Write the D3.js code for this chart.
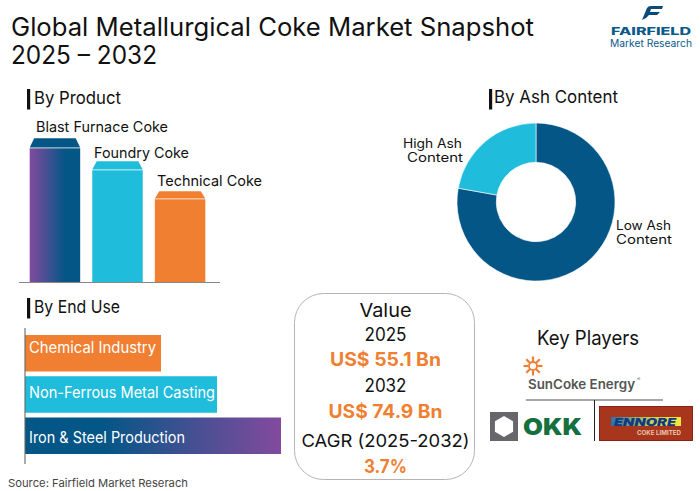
<!DOCTYPE html>
<html><head><meta charset="utf-8">
<script src="https://cdn.jsdelivr.net/npm/d3@7"></script>
<style>html,body{margin:0;background:#fff}svg{display:block}text{font-family:Inter,"Open Sans",sans-serif}</style>
</head><body><svg id="c" width="700" height="491"></svg>
<script>
const titleLines=["Global Metallurgical Coke Market Snapshot","2025 – 2032"];
const products=["Blast Furnace Coke","Foundry Coke","Technical Coke"];
const productValues=[134,112,83];
const ashLabels=["Low Ash Content","High Ash Content"];
const ashValues=[77.8,22.2];
const endUses=["Chemical Industry","Non-Ferrous Metal Casting","Iron & Steel Production"];
const endUseValues=[136,192,256];
const navy="#035686",cyan="#1fbcdb",orange="#f07f32",purple="#834a9e",ink="#111";
const valueLines=["Value","2025","US$ 55.1 Bn","2032","US$ 74.9 Bn","CAGR (2025-2032)","3.7%"];
const svg=d3.select("#c");
const defs=svg.append("defs");
function grad(id,stops){const g=defs.append("linearGradient").attr("id",id);stops.forEach(([o,c])=>g.append("stop").attr("offset",o).attr("stop-color",c));}
grad("g1",[[0,purple],[0.7,navy],[1,navy]]);
grad("g2",[[0,navy],[0.3,navy],[1,purple]]);
grad("g3",[[0,"#2f6fb0"],[0.5,"#b7c860"],[1,"#f6e63f"]]);
const txt=(x,y,s,size,o={})=>svg.append("text").attr("x",x).attr("y",y).text(s).attr("font-size",size).attr("text-anchor",o.a||"start").style("fill",o.f||ink).style("font-weight",o.w||400).style("font-style",o.i||null).attr("textLength",o.l||null).attr("lengthAdjust","spacingAndGlyphs");
txt(11,36,titleLines[0],25,{l:523});txt(11,64,titleLines[1],25,{l:146});
// headings
[[27,"By Product",89,104,87,34],[27,"By End Use",298,313,86,34],[489,"By Ash Content",89,103,124,494]].forEach(([x,s,y,b,l,tx])=>{
 svg.append("rect").attr("x",x).attr("y",y).attr("width",3.2).attr("height",20.5).attr("fill",ink);
 txt(tx,b,s,17.5,{l});});
// product bars
const yP=d3.scaleLinear().domain([0,134]).range([282.3,148.3]);
const xP=d3.scaleBand().domain(products).range([29.7,205.3]).paddingInner(0.193).paddingOuter(0);
const fills=["url(#g1)",cyan,orange],caps=[navy,cyan,orange];
const labelX=[36,94,157],labelW=[132,95,105],labelY=[132,158,186],capH=[10,9,8];
products.forEach((p,i)=>{
 const x=xP(p),w=xP.bandwidth(),y=yP(productValues[i]),h=yP(0)-y;
 svg.append("rect").attr("x",x).attr("y",y).attr("width",w).attr("height",h).attr("fill",fills[i]);
 svg.append("path").attr("d",d3.line()([[x,y-0.8],[x+4.5,y-capH[i]],[x+w-4.5,y-capH[i]],[x+w,y-0.8]])+"Z").attr("fill",caps[i]);
 txt(labelX[i],labelY[i],p,14.5,{l:labelW[i]});
});
svg.append("line").attr("x1",19).attr("x2",220).attr("y1",282.5).attr("y2",282.5).attr("stroke","#888").attr("stroke-width",1.1);
// donut
const ag=svg.append("g").attr("transform","translate(536,202)");
const pie=d3.pie().sort(null)(ashValues);
const arc=d3.arc().innerRadius(39.7).outerRadius(79);
ag.selectAll("path").data(pie).join("path").attr("d",arc).attr("fill",(d,i)=>[navy,cyan][i]).attr("stroke","#fff").attr("stroke-width",0.6);
txt(403,148,"High Ash",12.5,{l:59});txt(407,162,"Content",12.5,{l:56});
txt(616,230,"Low Ash",12.5,{l:55});txt(616,244,"Content",12.5,{l:56});
// end use
const xE=d3.scaleLinear().domain([0,256]).range([25,281]);
const yE=d3.scaleBand().domain(endUses).range([335,454]).paddingInner(0.115);
const ef=[orange,cyan,"url(#g2)"],elab=[127,186,156],eY=[353,398,443];
endUses.forEach((e,i)=>{
 svg.append("rect").attr("x",xE(0)).attr("y",yE(e)).attr("width",xE(endUseValues[i])-xE(0)).attr("height",yE.bandwidth()).attr("fill",ef[i]);
 txt(29,eY[i],e,15.5,{f:"#fff",l:elab[i]});
});
svg.append("line").attr("x1",25).attr("x2",25).attr("y1",328).attr("y2",464).attr("stroke","#666").attr("stroke-width",1.1);
txt(8,487,"Source: Fairfield Market Reserach",11,{f:"#444",l:180});
// value box
svg.append("rect").attr("x",294.5).attr("y",293.5).attr("width",180).attr("height",186).attr("rx",29).attr("fill","none").attr("stroke","#b5b5b5");
const ys=[317,341,366,392,418,447,473],ls=[52,42,111,42,114,168,43],hot=[0,0,1,0,1,0,1];
valueLines.forEach((s,i)=>txt(385.5,ys[i],s,hot[i]?18.5:(i==5?17.5:18.5),{a:"middle",f:hot[i]?orange:ink,w:hot[i]?700:400,l:ls[i]}));
// key players
txt(588,345,"Key Players",19.5,{a:"middle",l:102});
const sun=svg.append("g").attr("transform","translate(533,366)");
d3.range(8).forEach(i=>sun.append("rect").attr("x",-1.1).attr("y",-9.5).attr("width",2.2).attr("height",5).attr("fill",orange).attr("transform",`rotate(${i*45})`));
sun.append("circle").attr("r",4).attr("fill","none").attr("stroke",orange).attr("stroke-width",1.8);
txt(528,389,"SunCoke Energy",13,{f:"#555",w:600,l:107});
txt(637,381,"®",5,{f:"#777"});
svg.append("line").attr("x1",526).attr("x2",663).attr("y1",400).attr("y2",400).attr("stroke","#888").attr("stroke-width",1.5);
svg.append("line").attr("x1",594.5).attr("x2",594.5).attr("y1",400).attr("y2",441).attr("stroke","#222");
svg.append("rect").attr("x",490).attr("y",412).attr("width",28).attr("height",29).attr("fill","#66666b");
svg.append("path").attr("d",d3.line()(d3.range(6).map(i=>{const a=i*Math.PI/3;return [504+10.5*Math.sin(a),426.5-10.5*Math.cos(a)];}))+"Z").attr("fill","#fff");
txt(523,435,"OKK",23.5,{f:"#14703f",w:900,l:59});
svg.append("rect").attr("x",599.5).attr("y",406.5).attr("width",93).attr("height",34).attr("fill","#a8361c").attr("stroke","#8c1f1a");
svg.append("rect").attr("x",611).attr("y",417).attr("width",70).attr("height",9).attr("fill","url(#g3)");
txt(614,425.5,"ENNORE",10.5,{f:"#123a80",w:900,i:"italic",l:62});
txt(637,434.5,"COKE LIMITED",6,{f:"#e9c9b0",w:700,l:44});
// logo
svg.append("path").attr("d","M642 20 L647 8 Q648 6 651 6 L663 6 L662 9 L651 9 L650 12 L660 12 L657 15 L649 15 L646 18 Z").attr("fill","#0a4a78");
txt(611,35,"FAIRFIELD",10,{f:"#0a5a8a",w:800,l:80});
txt(610,46.5,"Market Research",10,{f:"#0a5a8a",l:82});
</script></body></html>
